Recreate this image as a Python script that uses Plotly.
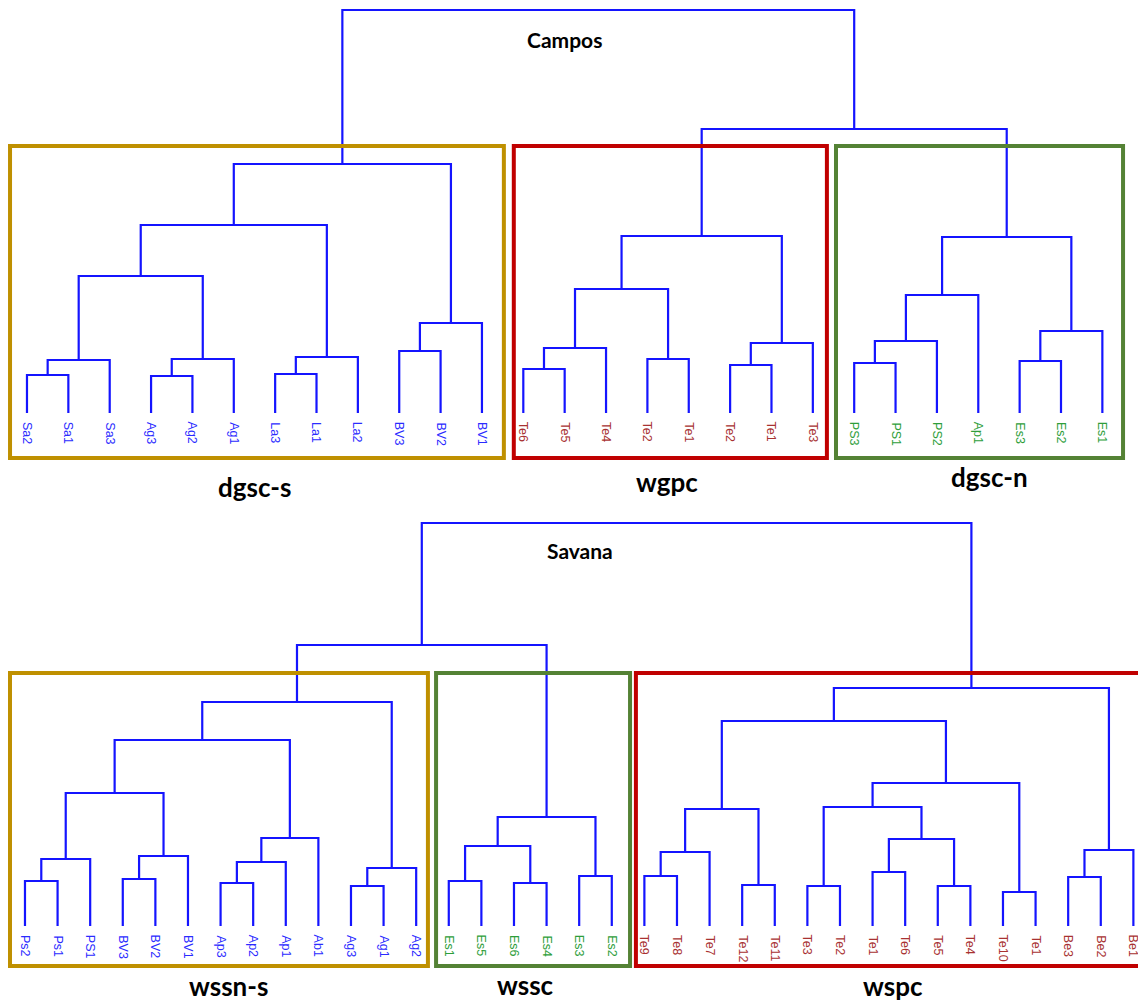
import plotly.graph_objects as go

# ---------------- data ----------------
# Campos dendrogram
campos_leaves = ["Sa2", "Sa1", "Sa3", "Ag3", "Ag2", "Ag1", "La3", "La1", "La2", "BV3", "BV2", "BV1",
                 "Te6", "Te5", "Te4", "Te2", "Te1", "Te2", "Te1", "Te3",
                 "PS3", "PS1", "PS2", "Ap1", "Es3", "Es2", "Es1"]
campos_leaf_group = [0] * 12 + [1] * 8 + [2] * 7
# merges: (child a, child b, height); ids >= n refer to earlier merges
campos_merges = [
    (0, 1, 0.38), (27, 2, 0.53), (3, 4, 0.37), (29, 5, 0.54), (6, 7, 0.39), (31, 8, 0.56),
    (9, 10, 0.62), (33, 11, 0.90), (28, 30, 1.37), (35, 32, 1.88), (36, 34, 2.49),
    (12, 13, 0.44), (38, 14, 0.65), (15, 16, 0.54), (39, 40, 1.24), (17, 18, 0.48),
    (42, 19, 0.70), (41, 43, 1.77), (20, 21, 0.50), (45, 22, 0.72), (46, 23, 1.18),
    (24, 25, 0.52), (48, 26, 0.82), (47, 49, 1.76), (44, 50, 2.84), (37, 51, 4.03),
]
campos_groups = ["dgsc-s", "wgpc", "dgsc-n"]
campos_group_span = [(0, 11), (12, 19), (20, 26)]
campos_group_color = [0, 1, 2]

# Savana dendrogram
savana_leaves = ["Ps2", "Ps1", "PS1", "BV3", "BV2", "BV1", "Ap3", "Ap2", "Ap1", "Ab1", "Ag3", "Ag1", "Ag2",
                 "Es1", "Es5", "Es6", "Es4", "Es3", "Es2",
                 "Te9", "Te8", "Te7", "Te12", "Te11", "Te3", "Te2", "Te1", "Te6", "Te5", "Te4",
                 "Te10", "Te1", "Be3", "Be2", "Be1"]
savana_leaf_group = [0] * 13 + [2] * 6 + [1] * 16
savana_merges = [
    (0, 1, 0.45), (35, 2, 0.67), (3, 4, 0.47), (37, 5, 0.70), (36, 38, 1.33),
    (6, 7, 0.43), (40, 8, 0.64), (41, 9, 0.88), (39, 42, 1.86), (10, 11, 0.40),
    (44, 12, 0.58), (43, 45, 2.24), (13, 14, 0.45), (15, 16, 0.43), (47, 48, 0.80),
    (17, 18, 0.50), (49, 50, 1.09), (46, 51, 2.81), (19, 20, 0.50), (53, 21, 0.74),
    (22, 23, 0.41), (54, 55, 1.17), (24, 25, 0.40), (26, 27, 0.54), (28, 29, 0.40),
    (58, 59, 0.87), (57, 60, 1.19), (30, 31, 0.34), (61, 62, 1.43), (56, 63, 2.05),
    (32, 33, 0.49), (65, 34, 0.76), (64, 66, 2.38), (52, 67, 4.03),
]
savana_groups = ["wssn-s", "wssc", "wspc"]
savana_group_span = [(0, 12), (13, 18), (19, 34)]
savana_group_color = [0, 2, 1]

# ---------------- style / layout ----------------
LINE = "#1414ff"
LABEL_COLORS = ["#2b2bff", "#a83232", "#2e9e3a"]   # blue, dark red, green text
BOX_COLORS = ["#bf9000", "#c00000", "#548235"]      # gold, red, green frames
campos_box_pad = [(0.41, 0.53), (0.23, 0.34), (0.44, 0.50)]
campos_box_y = (-0.45, 2.67)
campos_name_pos = [(5.51, -0.74), (15.47, -0.69), (23.28, -0.64)]
campos_title_pos = (13.0, 3.74)
savana_box_pad = [(0.46, 0.36), (0.39, 0.56), (0.26, 1.5)]
savana_box_y = (-0.40, 2.53)
savana_name_pos = [(6.23, -0.60), (15.34, -0.59), (26.63, -0.60)]
savana_title_pos = (17.02, 3.75)


def dendro_xy(n, merges):
    pos = {i: float(i) for i in range(n)}
    hgt = {i: 0.0 for i in range(n)}
    xs, ys = [], []
    for k, (a, b, h) in enumerate(merges):
        xa, xb = pos[a], pos[b]
        xs += [xa, xa, xb, xb, None]
        ys += [hgt[a], h, h, hgt[b], None]
        pos[n + k] = (xa + xb) / 2
        hgt[n + k] = h
    return xs, ys


fig = go.Figure()
annotations = []
shapes = []

panels = [
    ("x", "y", campos_leaves, campos_leaf_group, campos_merges, campos_groups, campos_group_span,
     campos_group_color, campos_box_pad, campos_box_y, campos_name_pos, "Campos", campos_title_pos),
    ("x2", "y2", savana_leaves, savana_leaf_group, savana_merges, savana_groups, savana_group_span,
     savana_group_color, savana_box_pad, savana_box_y, savana_name_pos, "Savana", savana_title_pos),
]

for (xr, yr, leaves, lgroup, merges, groups, spans, gcols, pads, boxy, npos,
     title, tpos) in panels:
    xs, ys = dendro_xy(len(leaves), merges)
    fig.add_trace(go.Scatter(x=xs, y=ys, mode="lines", xaxis=xr, yaxis=yr,
                             line=dict(color=LINE, width=2.2), hoverinfo="skip", showlegend=False))
    for i, (lab, g) in enumerate(zip(leaves, lgroup)):
        annotations.append(dict(x=i, y=-0.07, xref=xr, yref=yr, text=lab, textangle=90,
                                showarrow=False, xanchor="center", yanchor="top",
                                font=dict(family="Liberation Sans, Arial", size=12.5,
                                          color=LABEL_COLORS[g])))
    for name, (a, b), c, (pl, pr), (nx, ny) in zip(groups, spans, gcols, pads, npos):
        shapes.append(dict(type="rect", xref=xr, yref=yr, x0=a - pl, x1=b + pr,
                           y0=boxy[0], y1=boxy[1],
                           line=dict(color=BOX_COLORS[c], width=4)))
        annotations.append(dict(x=nx, y=ny, xref=xr, yref=yr, text=f"<b>{name}</b>",
                                showarrow=False, xanchor="center", yanchor="middle",
                                font=dict(family="Lato, Open Sans", size=26, color="black")))
    annotations.append(dict(x=tpos[0], y=tpos[1], xref=xr, yref=yr, text=f"<b>{title}</b>",
                            showarrow=False, xanchor="center", yanchor="middle",
                            font=dict(family="Lato, Open Sans", size=21, color="black")))

ax_common = dict(visible=False, showgrid=False, zeroline=False, fixedrange=True)
fig.update_layout(
    width=1138, height=995,
    margin=dict(l=0, r=0, t=0, b=0),
    paper_bgcolor="white", plot_bgcolor="white",
    xaxis=dict(domain=[0, 1], range=[-0.459, 27.055], anchor="y", **ax_common),
    yaxis=dict(domain=[0.50553, 1], range=[-0.87, 4.05], anchor="x", **ax_common),
    xaxis2=dict(domain=[0, 1], range=[-0.521, 34.387], anchor="y2", **ax_common),
    yaxis2=dict(domain=[0, 0.50553], range=[-0.77, 4.26], anchor="x2", **ax_common),
    annotations=annotations,
    shapes=shapes,
)

fig.write_html("out.html")
